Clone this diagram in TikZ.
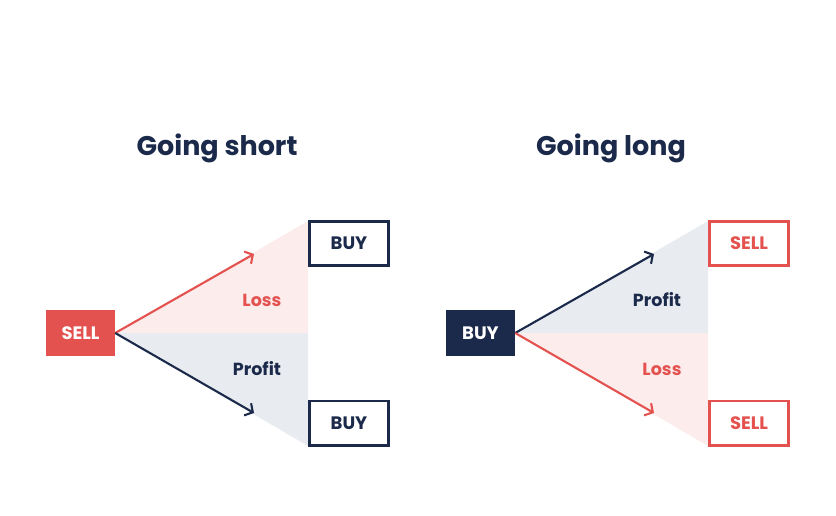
\documentclass[tikz,border=0pt]{standalone}
\usepackage{fontspec}
\setmainfont{Poppins}
\usetikzlibrary{arrows.meta}
\definecolor{cred}{HTML}{E4524F}
\definecolor{cnavy}{HTML}{1B2A4A}
\definecolor{cpink}{HTML}{FCECEC}
\definecolor{cgray}{HTML}{E8EBF0}
\begin{document}
\begin{tikzpicture}[x=1pt,y=-1pt,
  title/.style={font=\fontsize{27}{30}\selectfont\bfseries, text=cnavy},
  solidbox/.style={minimum width=69pt, minimum height=46pt, inner sep=0pt, font=\fontsize{18}{20}\selectfont\bfseries, text=white},
  outbox/.style={draw, line width=2.8pt, minimum width=79.2pt, minimum height=44.2pt, inner sep=0pt, font=\fontsize{18}{20}\selectfont\bfseries},
  lbl/.style={font=\fontsize{17.5}{20}\selectfont\bfseries},
  arr/.style={line width=2.1pt, -{Straight Barb[length=6pt,width=14pt,line width=2.1pt]}}
]
\useasboundingbox (0,0) rectangle (836,515);
% ---------- left: going short
\node[title] (t1) at (217,148) {Going short};
\fill[cpink] (115,333) -- (308,221) -- (308,333) -- cycle;
\fill[cgray] (115,333) -- (308,333) -- (308,446) -- cycle;
\node[solidbox, fill=cred] (s1) at (80.5,333) {SELL};
\node[outbox, draw=cnavy, text=cnavy] (b1) at (349,243.5) {BUY};
\node[outbox, draw=cnavy, text=cnavy] (b2) at (349,423) {BUY};
\coordinate (a1) at (254,254);
\coordinate (a2) at (254,413);
\draw[arr, cred] (s1.east) -- (a1);
\draw[arr, cnavy] (s1.east) -- (a2);
\node[lbl, text=cred] (l1) at (262,300) {Loss};
\node[lbl, text=cnavy] (p1) at (257,369) {Profit};
% ---------- right: going long
\node[title] (t2) at (611,148) {Going long};
\fill[cgray] (515,333) -- (708,221) -- (708,333) -- cycle;
\fill[cpink] (515,333) -- (708,333) -- (708,446) -- cycle;
\node[solidbox, fill=cnavy] (s2) at (480.5,333) {BUY};
\node[outbox, draw=cred, text=cred] (b3) at (749,243.5) {SELL};
\node[outbox, draw=cred, text=cred] (b4) at (749,423) {SELL};
\coordinate (a3) at (654,254);
\coordinate (a4) at (654,413);
\draw[arr, cnavy] (s2.east) -- (a3);
\draw[arr, cred] (s2.east) -- (a4);
\node[lbl, text=cnavy] (p2) at (657,300) {Profit};
\node[lbl, text=cred] (l2) at (662,369) {Loss};
\end{tikzpicture}
\end{document}
